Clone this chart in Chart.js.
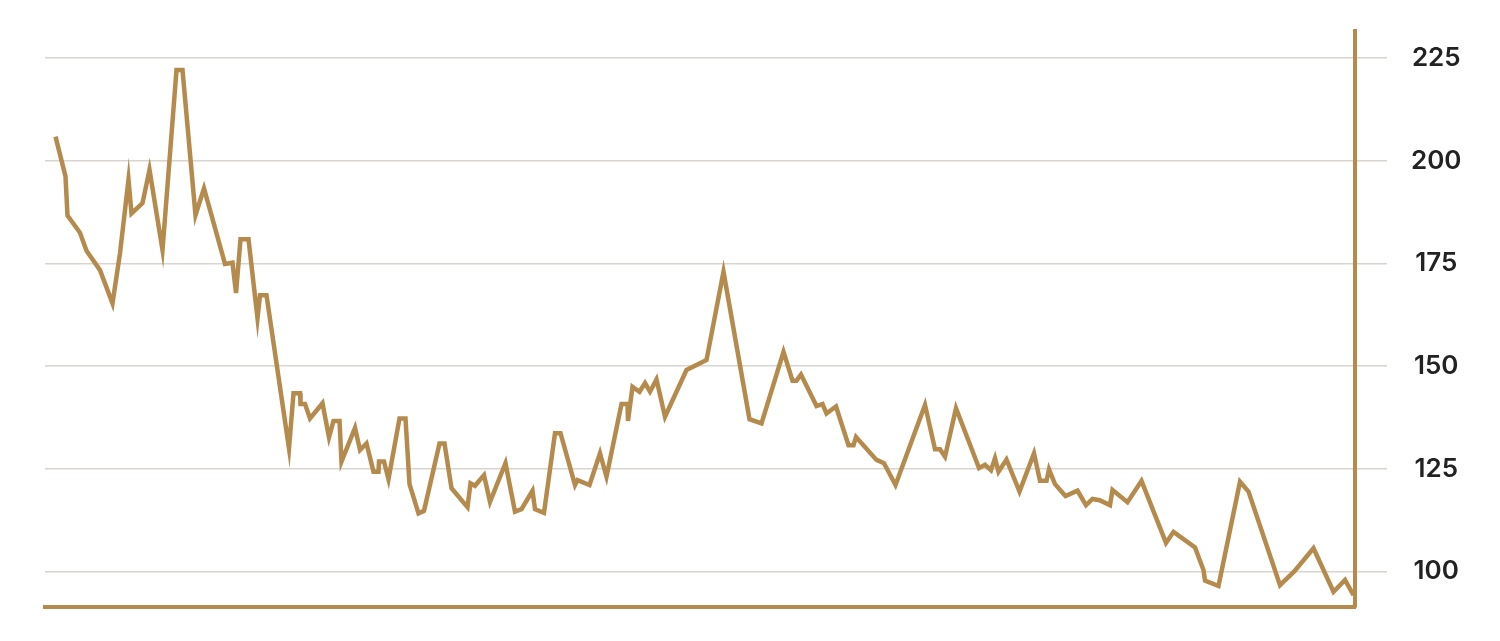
<!DOCTYPE html>
<html>
<head>
<meta charset="utf-8">
<script src="https://cdn.jsdelivr.net/npm/chart.js@4.4.1/dist/chart.umd.min.js"></script>
<style>
  html, body { margin: 0; padding: 0; background: #fff; }
  #wrap { width: 1500px; height: 641px; position: relative; }
</style>
</head>
<body>
<div id="wrap"><canvas id="priceChart"></canvas></div>
<script>
// Price series (x = period index, y = price)
const periods = [
  2.1, 4.1, 4.5, 7.0, 8.3, 11.0, 13.5, 15.0, 16.7, 17.3, 19.5, 20.9, 23.5, 26.3, 27.5, 30.1, 31.8,
  36.0, 37.5, 38.2, 39.1, 40.7, 42.5, 43.0, 44.3, 48.8, 49.7, 51.0, 51.1, 52.0, 53.0, 55.5, 56.8,
  57.7, 58.9, 59.3, 62.0, 63.0, 64.3, 65.7, 66.7, 66.8, 67.8, 68.7, 70.9, 72.1, 72.9, 74.7, 75.8,
  78.9, 79.9, 81.3, 84.5, 85.1, 86.0, 87.8, 89.0, 92.1, 94.0, 95.3, 97.5, 98.0, 99.8, 102.0, 103.1,
  106.0, 106.5, 108.9, 111.0, 112.3, 115.3, 116.5, 116.6, 117.5, 118.9, 120.0, 121.0, 122.3, 124.0,
  128.3, 132.3, 135.7, 140.9, 143.3, 147.7, 149.5, 150.3, 151.2, 154.3, 155.5, 156.3, 158.2, 160.7,
  161.7, 162.2, 166.3, 167.8, 170.1, 176.0, 178.0, 179.0, 180.0, 182.2, 186.8, 188.0, 189.2, 190.0,
  190.7, 192.3, 194.9, 197.8, 199.0, 200.3, 200.8, 202.0, 204.1, 206.5, 208.2, 209.5, 210.9, 213.0,
  213.5, 216.5, 219.3, 224.2, 225.7, 230.0, 231.7, 232.0, 234.7, 239.0, 240.7, 247.0, 249.8, 253.7,
  257.7, 260.0, 261.7
];
const prices = [
  205.9, 196.2, 186.7, 182.5, 178.1, 173.4, 165.3, 177.5, 195.4, 187.2, 189.7, 197.8, 178.3, 222.1, 222.1, 186.8, 193.3,
  174.9, 175.2, 167.8, 180.9, 180.9, 161.7, 167.3, 167.3, 130.0, 143.4, 143.4, 140.8, 140.8, 137.3, 141.0, 132.7,
  136.7, 136.7, 126.8, 135.0, 129.6, 131.2, 124.3, 124.3, 126.8, 126.8, 122.5, 137.3, 137.3, 121.3, 114.2, 114.8,
  131.2, 131.2, 120.3, 115.7, 121.5, 120.9, 123.5, 117.0, 126.4, 114.6, 115.2, 119.7, 115.2, 114.3, 133.7, 133.7,
  121.1, 122.3, 121.1, 128.8, 123.1, 140.8, 140.8, 136.7, 145.0, 143.8, 145.9, 143.8, 146.8, 137.7,
  149.1, 151.5, 173.0, 137.1, 136.1, 153.5, 146.5, 146.5, 148.0, 140.3, 140.8, 138.5, 140.2, 130.8,
  130.8, 132.8, 127.2, 126.4, 121.1, 140.6, 129.8, 129.8, 128.0, 139.8, 125.2, 126.0, 124.7, 127.6,
  124.3, 127.3, 119.5, 128.8, 122.1, 122.1, 124.9, 121.3, 118.4, 119.7, 116.2, 117.7, 117.4, 116.2,
  119.9, 116.9, 122.1, 107.0, 109.7, 105.9, 100.4, 97.8, 96.5, 121.9, 119.5, 96.7, 100.0, 105.7,
  95.1, 98.0, 94.3
];
const yTicks = [100, 125, 150, 175, 200, 225];

const gold = '#b48b4c';
const gridGrey = '#d9d4cf';

const ctx = document.getElementById('priceChart').getContext('2d');
new Chart(ctx, {
  type: 'line',
  data: {
    datasets: [{
      data: periods.map((p, i) => ({ x: p, y: prices[i] })),
      borderColor: gold,
      borderWidth: 4.5,
      pointRadius: 0,
      tension: 0,
      fill: false
    }]
  },
  options: {
    responsive: true,
    maintainAspectRatio: false,
    devicePixelRatio: 1,
    animation: false,
    layout: { padding: { left: 45, right: 0, top: 31, bottom: 34 } },
    plugins: { legend: { display: false }, tooltip: { enabled: false } },
    scales: {
      x: {
        type: 'linear',
        min: 0,
        max: 262,
        grid: { display: false, drawTicks: false },
        ticks: { display: false },
        border: { display: true, color: gold, width: 4 }
      },
      y: {
        position: 'right',
        min: 91.4,
        max: 231.6,
        afterBuildTicks: (axis) => { axis.ticks = yTicks.map(v => ({ value: v })); },
        afterFit: (axis) => {
          axis.width = 145;
          axis.paddingTop = 0;
          axis.paddingBottom = 0;
        },
        grid: { color: gridGrey, lineWidth: 1.5, tickLength: 32 },
        border: { display: true, color: gold, width: 4 },
        ticks: {
          color: '#222',
          padding: 24,
          crossAlign: 'center',
          font: { family: 'Inter', size: 26, weight: '600' }
        }
      }
    }
  }
});
</script>
</body>
</html>
